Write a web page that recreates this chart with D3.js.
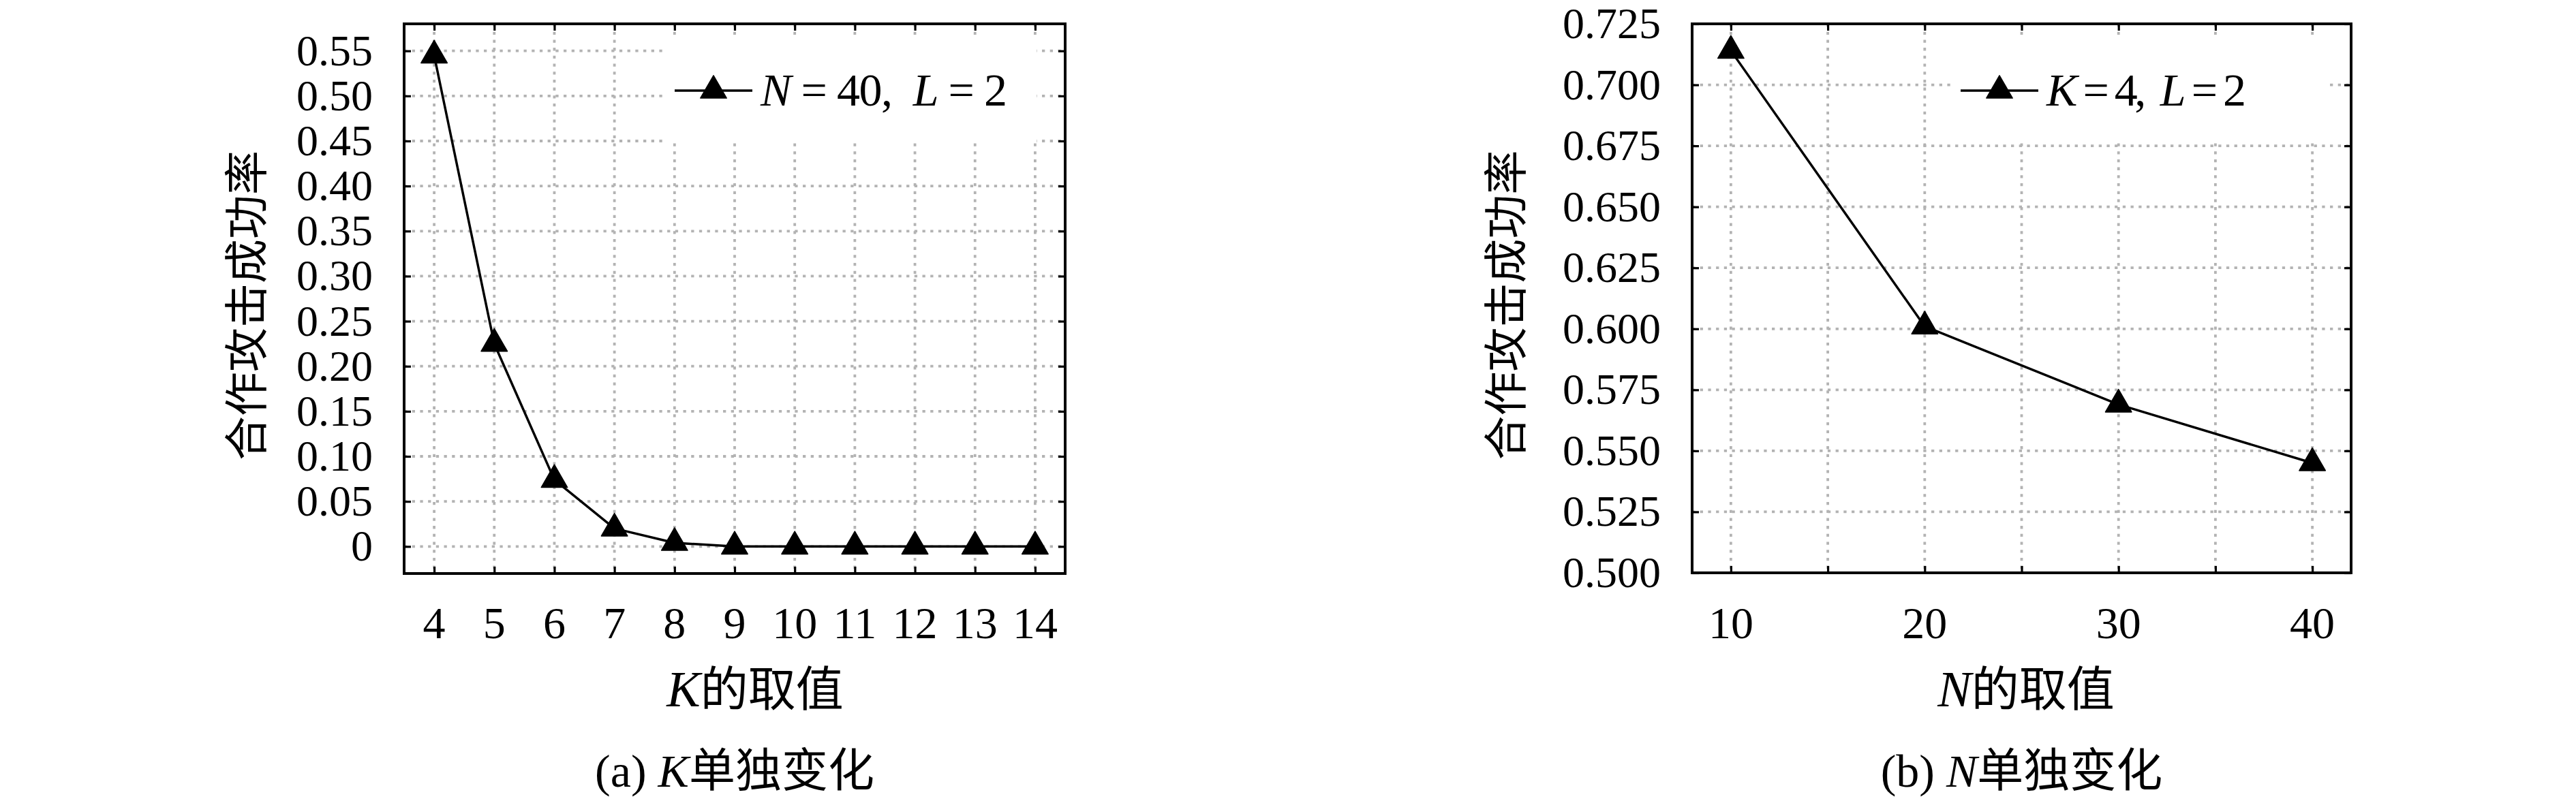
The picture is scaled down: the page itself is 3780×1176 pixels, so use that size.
<!DOCTYPE html>
<html>
<head>
<meta charset="utf-8">
<script src="https://cdn.jsdelivr.net/npm/d3@7"></script>
<style>
  body { margin: 0; background: #fff; }
  .num { font-family: "Liberation Serif", "DejaVu Serif", serif; }
  .cjk { font-family: "Noto Sans CJK SC", sans-serif; }
</style>
</head>
<body>
<div id="chart"></div>
<script>
// (a) K varies, N=40, L=2
const kValues = [4, 5, 6, 7, 8, 9, 10, 11, 12, 13, 14];
const kRate = [0.545, 0.225, 0.074, 0.020, 0.004, 0, 0, 0, 0, 0, 0];
const kYTicks = [0, 0.05, 0.10, 0.15, 0.20, 0.25, 0.30, 0.35, 0.40, 0.45, 0.50, 0.55];

// (b) N varies, K=4, L=2
const nValues = [10, 20, 30, 40];
const nRate = [0.714, 0.601, 0.569, 0.545];
const nXTicks = [10, 15, 20, 25, 30, 35, 40];
const nXLabels = [10, 20, 30, 40];
const nYTicks = [0.500, 0.525, 0.550, 0.575, 0.600, 0.625, 0.650, 0.675, 0.700, 0.725];

const yTitle = "合作攻击成功率";

const W = 3780, H = 1176;
const gridColor = "#b3b3b3";

const svg = d3.select("#chart")
    .append("svg")
    .attr("width", W)
    .attr("height", H);

const panels = [
    {
        left: 593, right: 1563, top: 35, bottom: 842,
        xDomain: [3.5, 14.5], yDomain: [-0.03, 0.58],
        xs: kValues, ys: kRate,
        xTicks: kValues, xLabels: kValues,
        yTicks: kYTicks, yFmt: d => d === 0 ? "0" : d3.format(".2f")(d),
        yTitleX: 357, xTitleX: 1108,
        varName: "K", tag: "(a) ",
        legendBox: [978, 57, 543, 152],
        legend: ["N", " = 40,  ", "L", " = 2"], legendLen: 362
    },
    {
        left: 2483, right: 3450, top: 35, bottom: 841,
        xDomain: [8, 42], yDomain: [0.5, 0.725],
        xs: nValues, ys: nRate,
        xTicks: nXTicks, xLabels: nXLabels,
        yTicks: nYTicks, yFmt: d3.format(".3f"),
        yTitleX: 2205, xTitleX: 2973,
        varName: "N", tag: "(b) ",
        legendBox: [2865, 57, 548, 152],
        legend: ["K", " = 4,  ", "L", " = 2"], legendLen: 293
    }
];

const tri = d3.symbol(d3.symbolTriangle, 640);

panels.forEach(p => {
    const x = d3.scaleLinear().domain(p.xDomain).range([p.left, p.right]);
    const y = d3.scaleLinear().domain(p.yDomain).range([p.bottom, p.top]);
    const g = svg.append("g");

    // Grid
    g.append("g").selectAll("line")
        .data(p.xTicks)
        .enter().append("line")
        .attr("x1", d => x(d)).attr("x2", d => x(d))
        .attr("y1", p.top).attr("y2", p.bottom)
        .attr("stroke", gridColor).attr("stroke-width", 3.8)
        .attr("stroke-dasharray", "4.3 7.4");
    g.append("g").selectAll("line")
        .data(p.yTicks)
        .enter().append("line")
        .attr("x1", p.left).attr("x2", p.right)
        .attr("y1", d => y(d)).attr("y2", d => y(d))
        .attr("stroke", gridColor).attr("stroke-width", 3.8)
        .attr("stroke-dasharray", "4.3 7.4");

    // Inward ticks on all four sides
    const tk = 10;
    const axes = [
        d3.axisBottom(x).tickValues(p.xTicks).tickSize(-tk).tickFormat(""),
        d3.axisTop(x).tickValues(p.xTicks).tickSize(-tk).tickFormat(""),
        d3.axisLeft(y).tickValues(p.yTicks).tickSize(-tk).tickFormat(""),
        d3.axisRight(y).tickValues(p.yTicks).tickSize(-tk).tickFormat("")
    ];
    const trans = [
        `translate(0,${p.bottom})`, `translate(0,${p.top})`,
        `translate(${p.left},0)`, `translate(${p.right},0)`
    ];
    axes.forEach((a, i) => {
        const ag = g.append("g").attr("transform", trans[i]).call(a);
        ag.select(".domain").remove();
        ag.selectAll(".tick line").attr("stroke", "#000").attr("stroke-width", 3.2);
    });

    // Legend background hides the grid
    const [lx, ly, lw, lh] = p.legendBox;
    g.append("rect")
        .attr("x", lx).attr("y", ly).attr("width", lw).attr("height", lh)
        .attr("fill", "#fff");

    // Frame
    g.append("rect")
        .attr("x", p.left).attr("y", p.top)
        .attr("width", p.right - p.left).attr("height", p.bottom - p.top)
        .attr("fill", "none").attr("stroke", "#000").attr("stroke-width", 4);

    // Tick labels
    g.append("g").selectAll("text")
        .data(p.xLabels)
        .enter().append("text")
        .attr("class", "num")
        .attr("x", d => x(d)).attr("y", 937)
        .attr("text-anchor", "middle")
        .attr("font-size", 66)
        .text(d => d);
    g.append("g").selectAll("text")
        .data(p.yTicks)
        .enter().append("text")
        .attr("class", "num")
        .attr("x", p.left - 46).attr("y", d => y(d) + 21)
        .attr("text-anchor", "end")
        .attr("font-size", 64)
        .text(p.yFmt);

    // Data line + markers
    const pts = p.xs.map((v, i) => [v, p.ys[i]]);
    g.append("path")
        .datum(pts)
        .attr("d", d3.line().x(d => x(d[0])).y(d => y(d[1])))
        .attr("fill", "none").attr("stroke", "#000").attr("stroke-width", 3.5)
        .attr("stroke-linejoin", "round");
    g.append("g").selectAll("path")
        .data(pts)
        .enter().append("path")
        .attr("d", tri)
        .attr("transform", d => `translate(${x(d[0])},${y(d[1])})`)
        .attr("fill", "#000").attr("stroke", "#000").attr("stroke-width", 1.5)
        .attr("stroke-linejoin", "round");

    // Legend entry
    const lyc = ly + 76;
    g.append("line")
        .attr("x1", lx + 12).attr("x2", lx + 126)
        .attr("y1", lyc).attr("y2", lyc)
        .attr("stroke", "#000").attr("stroke-width", 3.5);
    g.append("path")
        .attr("d", tri)
        .attr("transform", `translate(${lx + 69},${lyc})`)
        .attr("fill", "#000").attr("stroke", "#000").attr("stroke-width", 1.5)
        .attr("stroke-linejoin", "round");
    const lt = g.append("text")
        .attr("class", "num")
        .attr("x", lx + 138).attr("y", lyc + 22)
        .attr("font-size", 68)
        .attr("textLength", p.legendLen)
        .attr("lengthAdjust", "spacing")
        .style("white-space", "pre");
    p.legend.forEach((s, i) => {
        lt.append("tspan")
            .attr("font-style", i % 2 === 0 ? "italic" : "normal")
            .text(s);
    });

    // Axis titles
    g.append("text")
        .attr("class", "cjk")
        .attr("transform", `translate(${p.yTitleX},${(p.top + p.bottom) / 2 + 10}) rotate(-90)`)
        .attr("text-anchor", "middle")
        .attr("dominant-baseline", "central")
        .attr("font-size", 65)
        .text(yTitle);

    const xt = g.append("text")
        .attr("x", p.xTitleX).attr("y", 1037)
        .attr("text-anchor", "middle")
        .attr("font-size", 70);
    xt.append("tspan").attr("class", "num").attr("font-style", "italic").attr("font-size", 74).text(p.varName);
    xt.append("tspan").attr("class", "cjk").text("的取值");

    // Sub-caption
    const cap = g.append("text")
        .attr("x", (p.left + p.right) / 2).attr("y", 1155)
        .attr("text-anchor", "middle")
        .attr("font-size", 68)
        .style("white-space", "pre");
    cap.append("tspan").attr("class", "num").text(p.tag);
    cap.append("tspan").attr("class", "num").attr("font-style", "italic").text(p.varName);
    cap.append("tspan").attr("class", "cjk").text("单独变化");
});
</script>
</body>
</html>
